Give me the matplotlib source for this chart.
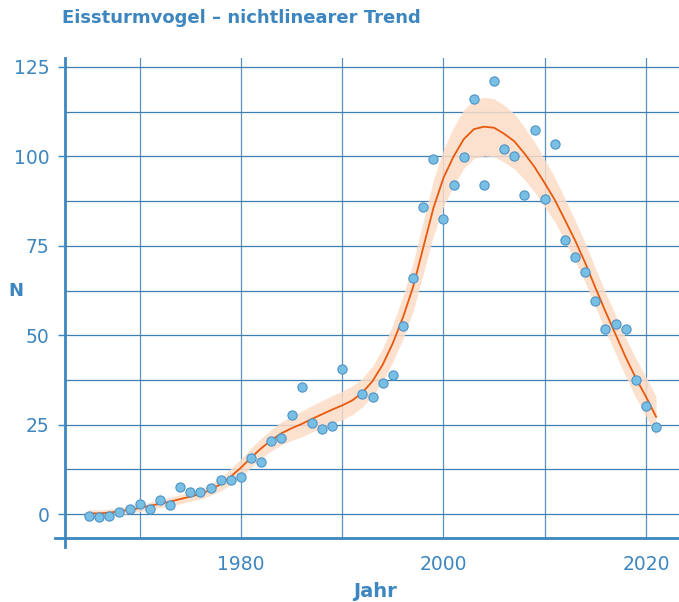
import matplotlib
matplotlib.use('Agg')
import matplotlib.pyplot as plt
from matplotlib.ticker import MultipleLocator, FixedLocator
import numpy as np

plt.rcParams['font.family'] = ['DejaVu Sans']

# Beobachtungen (Jahr, N) - 1991 fehlt
jahre = [1965, 1966, 1967, 1968, 1969, 1970, 1971, 1972, 1973, 1974,
         1975, 1976, 1977, 1978, 1979, 1980, 1981, 1982, 1983, 1984,
         1985, 1986, 1987, 1988, 1989, 1990, 1992, 1993, 1994, 1995,
         1996, 1997, 1998, 1999, 2000, 2001, 2002, 2003, 2004, 2005,
         2006, 2007, 2008, 2009, 2010, 2011, 2012, 2013, 2014, 2015,
         2016, 2017, 2018, 2019, 2020, 2021]
n_werte = [-0.6, -0.7, -0.5, 0.6, 1.4, 2.8, 1.3, 3.9, 2.6, 7.6,
           6.2, 6.2, 7.4, 9.5, 9.6, 10.4, 15.6, 14.5, 20.4, 21.4,
           27.6, 35.4, 25.6, 23.7, 24.6, 40.6, 33.5, 32.6, 36.6, 38.8,
           52.6, 66.0, 85.9, 99.2, 82.4, 92.1, 99.8, 116.1, 92.1, 121.0,
           102.2, 100.2, 89.2, 107.4, 88.1, 103.4, 76.6, 71.8, 67.7, 59.6,
           51.7, 53.0, 51.7, 37.5, 30.3, 24.4]

# Trend und halbe Breite des Konfidenzbands
trend_jahre = list(range(1965, 2022))
trend = [0.2, 0.2, 0.4, 0.8, 1.2, 1.7, 2.3, 2.9, 3.5, 4.2,
         4.9, 5.6, 6.8, 8.4, 10.5, 13.0, 15.8, 18.4, 20.7, 22.6,
         24.0, 25.2, 26.6, 27.9, 29.2, 30.4, 31.8, 34.0, 37.2, 41.8,
         47.8, 55.0, 63.5, 74.5, 85.5, 94.0, 100.0, 104.8, 107.6, 108.3,
         108.0, 106.3, 104.2, 100.8, 97.0, 92.5, 87.8, 82.2, 76.5, 70.2,
         63.3, 56.6, 50.2, 43.8, 38.0, 32.8, 27.2]
band = [1.0, 1.0, 1.0, 1.0, 1.0, 1.0, 1.0, 1.1, 1.2, 1.3,
        1.3, 1.4, 1.6, 1.9, 2.2, 2.5, 2.7, 2.8, 3.0, 3.2,
        3.4, 3.6, 3.7, 3.8, 3.9, 4.0, 4.0, 4.0, 4.2, 4.6,
        5.2, 6.0, 6.8, 7.4, 7.8, 8.0, 8.1, 8.2, 8.2, 8.2,
        8.1, 8.0, 7.7, 7.3, 7.0, 6.6, 6.2, 5.9, 5.6, 5.5,
        5.4, 5.4, 5.4, 5.4, 5.5, 5.5, 5.6]

x_haupt = [1980, 2000, 2020]
x_neben = [1970, 1990, 2010]
y_gitter = [0, 12.5, 25, 37.5, 50, 62.5, 75, 87.5, 100, 112.5, 125]

blau = '#3d86bf'
gitter = '#3f7fb2'

x_links, x_rechts = 1961.63, 2023.26
y_unten, y_oben = -9.2, 127.5
x_achse, y_achse = 1962.6, -6.7   # wo sich die Achsenlinien kreuzen

fig = plt.figure(figsize=(6.79, 6.02), dpi=100)
ax = fig.add_axes([55 / 679, 55 / 602, 624 / 679, 489 / 602])
ax.set_xlim(x_links, x_rechts)
ax.set_ylim(y_unten, y_oben)

# Gitter nur innerhalb der Achsenlinien
xmin = (x_achse - x_links) / (x_rechts - x_links)
ymin = (y_achse - y_unten) / (y_oben - y_unten)
for y in y_gitter:
    ax.axhline(y, xmin=xmin, xmax=1, color=gitter, lw=0.9, zorder=1)
for x in x_haupt + x_neben:
    ax.axvline(x, ymin=ymin, ymax=1, color=gitter, lw=0.9, alpha=0.85, zorder=1)

tj = np.array(trend_jahre)
tr = np.array(trend)
bd = np.array(band)
ax.fill_between(tj, tr - bd, tr + bd, color='#fcdcc7', alpha=0.85, lw=0, zorder=2)
ax.plot(tj, tr, color='#e8590c', lw=1.3, zorder=3)
ax.scatter(jahre, n_werte, s=44, color='#78bfe6', edgecolor='#4f93c4', lw=0.8, zorder=4)

ax.xaxis.set_major_locator(FixedLocator(x_haupt))
ax.yaxis.set_major_locator(MultipleLocator(25))

for s in ['top', 'right']:
    ax.spines[s].set_visible(False)
ax.spines['left'].set_position(('data', x_achse))
ax.spines['bottom'].set_position(('data', y_achse))
for s in ['left', 'bottom']:
    ax.spines[s].set_color(blau)
    ax.spines[s].set_linewidth(2)

ax.tick_params(axis='y', which='major', length=5, width=1, color=blau,
               labelcolor=blau, labelsize=13.5, pad=6)
ax.tick_params(axis='x', which='major', length=0, labelcolor=blau,
               labelsize=13.5, pad=12)

# Achsenbeschriftungen
ax.set_ylabel('N', rotation=0, color=blau, fontsize=13, fontweight='bold')
ax.yaxis.set_label_coords(-0.0625, 0.505)
ax.set_xlabel('Jahr', color=blau, fontsize=14, fontweight='bold', va='center')
ax.xaxis.set_label_coords(0.513, -0.092)

fig.text(62 / 679, 1 - 18 / 602, 'Eissturmvogel – nichtlinearer Trend',
         color=blau, fontsize=13, fontweight='bold', va='center', ha='left')

fig.savefig('out.png', dpi=100)
